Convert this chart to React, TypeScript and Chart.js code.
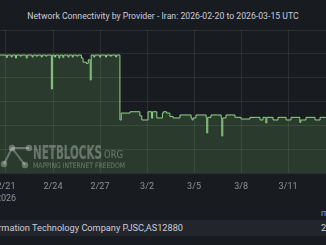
import React, { useEffect, useRef } from "react";
import { Chart, registerables } from "chart.js";
Chart.register(...registerables);

const TITLE = "Network Connectivity by Provider - Iran: 2026-02-20 to 2026-03-15 UTC";
const SERIES_NAME = "Information Technology Company PJSC,AS12880";

// hours since 2026-02-20 00:00 UTC (step series: value holds until next point)
const hours = [
  0, 24.5, 26, 32, 33.5, 38.5, 40, 46, 47.5, 55, 56.5, 64, 65.5, 70.5, 72, 78, 79.5, 85, 86.5,
  93.5, 95, 98.5, 100, 105, 106.5, 111, 112.5, 119, 120.5, 125.5, 127, 132.5, 134, 139.5, 142,
  147, 150, 153, 154.5, 158.5, 160, 167.5, 169, 176.5, 178, 184, 185.5, 192, 193.5,
  198.5, 200.5, 214, 229, 232, 241.5, 247, 248.5, 255, 263.5, 265, 270, 275, 280, 290.5,
  307.5, 309, 310.5, 315, 330.5, 331.5, 333, 338, 353.5, 354.5, 356, 361, 374.7, 384, 397.7,
  413, 417.6, 422, 423.5, 433, 440.6, 453, 460.5, 474, 475.5, 483.5, 497.3, 505, 521, 528,
  544, 552, 567, 576,
];
const values = [
  99, 97, 99, 97.3, 99, 96.5, 99, 98, 99, 96.5, 99, 97.3, 99, 98, 99, 97.3, 99, 98, 99,
  70.5, 99, 97.3, 99, 96.5, 99, 97, 99, 97.3, 99, 97.3, 99, 98, 99, 96.5, 93,
  92, 95, 78, 99, 97.3, 99, 97.3, 99, 97.3, 99, 98, 99, 97.3, 99,
  44.5, 50.3, 51.4, 48, 44.5, 51.4, 46, 51.4, 46.2, 50.3, 51.4, 50.3, 47.5, 46.2, 48.7,
  46.2, 44.5, 46.2, 48.7, 46.7, 33.6, 46.7, 48.7, 46.2, 31, 46.2, 48.7, 46.7, 45.3, 46.7,
  44.5, 46.7, 42, 46.7, 44.5, 46.7, 44.5, 46.7, 42.5, 44.5, 46.7, 44.5, 46.7, 44.5, 46.7,
  44.5, 46.7, 44.5, 44.5,
];

const tickHours = [24, 96, 168, 240, 312, 384, 456, 528];
const tickLabels: (string | string[])[] = [["2/21", "2026"], "2/24", "2/27", "3/2", "3/5", "3/8", "3/11", "3/14"];

const BG = "#181b1f";
const FONT = "Roboto";
const CANVAS_LEFT = -20;
const CANVAS_TOP = 20;

const watermark = {
  id: "watermark",
  afterDatasetsDraw(chart: any) {
    const ctx = chart.ctx;
    const ox = -CANVAS_LEFT;
    const oy = -CANVAS_TOP;
    ctx.save();
    const col = "rgba(255,255,255,0.3)";
    ctx.strokeStyle = col;
    ctx.fillStyle = col;
    ctx.lineWidth = 2;
    const nodes = [
      [12 + ox, 148 + oy],
      [29 + ox, 148 + oy],
      [4 + ox, 164 + oy],
      [25 + ox, 165 + oy],
    ];
    ctx.beginPath();
    ctx.moveTo(nodes[0][0], nodes[0][1]);
    ctx.lineTo(nodes[1][0], nodes[1][1]);
    ctx.moveTo(nodes[0][0], nodes[0][1]);
    ctx.lineTo(nodes[2][0], nodes[2][1]);
    ctx.moveTo(nodes[0][0], nodes[0][1]);
    ctx.lineTo(nodes[3][0], nodes[3][1]);
    ctx.stroke();
    for (const [x, y] of nodes) {
      ctx.beginPath();
      ctx.arc(x, y, 3.2, 0, Math.PI * 2);
      ctx.fill();
    }
    const fitText = (t: string, font: string, x: number, y: number, w: number) => {
      ctx.font = font;
      const m = ctx.measureText(t).width;
      ctx.save();
      ctx.translate(x + ox, y + oy);
      ctx.scale(w / m, 1);
      ctx.textBaseline = "alphabetic";
      ctx.fillText(t, 0, 0);
      ctx.restore();
    };
    fitText("NETBLOCKS", "bold 19px 'DejaVu Sans Condensed', 'DejaVu Sans'", 33, 158.5, 69);
    fitText("ORG", "11px 'DejaVu Sans'", 104, 158, 19);
    fitText("MAPPING INTERNET FREEDOM", "7.5px 'DejaVu Sans'", 33, 168, 92);
    ctx.restore();
  },
};

export default function App() {
  const ref = useRef<HTMLCanvasElement>(null);
  useEffect(() => {
    const canvas = ref.current!;
    const chart = new Chart(canvas, {
      type: "line",
      data: {
        datasets: [
          {
            label: SERIES_NAME,
            data: hours.map((h, i) => ({ x: h, y: values[i] })),
            borderColor: "#93d488",
            backgroundColor: "rgba(115,191,105,0.2)",
            borderWidth: 1,
            pointRadius: 0,
            stepped: "before",
            fill: "origin",
          },
        ],
      },
      options: {
        animation: false,
        responsive: false,
        devicePixelRatio: 1,
        layout: { padding: { left: 10.33, right: 13.6, top: 10, bottom: 0 } },
        plugins: { legend: { display: false }, tooltip: { enabled: false }, title: { display: false } },
        scales: {
          x: {
            type: "linear",
            min: 0,
            max: 576,
            afterBuildTicks: (scale: any) => {
              scale.ticks = tickHours.map((v) => ({ value: v }));
            },
            afterFit: (scale: any) => {
              scale.height = 30;
            },
            ticks: {
              autoSkip: false,
              maxRotation: 0,
              padding: 8,
              color: "rgba(204,204,220,0.65)",
              font: { family: FONT, size: 9, lineHeight: 1.3 },
              callback: (_v: any, i: number) => tickLabels[i],
            },
            grid: { color: "rgba(240,250,255,0.09)", drawTicks: false },
            border: { display: false },
          },
          y: {
            min: 0,
            max: 120,
            ticks: { stepSize: 20, display: false },
            afterFit: (scale: any) => {
              scale.width = 0;
            },
            grid: { color: "rgba(240,250,255,0.09)", drawTicks: false },
            border: { display: false },
          },
        },
      },
      plugins: [watermark],
    } as any);
    return () => chart.destroy();
  }, []);

  return (
    <div
      style={{
        position: "fixed",
        left: 0,
        top: 0,
        width: 326,
        height: 245,
        overflow: "hidden",
        background: BG,
        fontFamily: FONT,
      }}
    >
      <div
        style={{
          position: "absolute",
          left: 0,
          top: 10,
          width: 326,
          textAlign: "center",
          fontSize: 8.7,
          lineHeight: "12px",
          color: "#ccccdc",
          whiteSpace: "nowrap",
        }}
      >
        {TITLE}
      </div>
      <canvas
        ref={ref}
        width={400}
        height={183}
        style={{ position: "absolute", left: CANVAS_LEFT, top: CANVAS_TOP, width: 400, height: 183 }}
      />
      <div style={{ position: "absolute", left: 0, top: 220, width: 326, height: 16, background: "#22252b" }} />
      <div
        style={{
          position: "absolute",
          right: 143,
          top: 220,
          lineHeight: "16px",
          fontSize: 9.2,
          color: "#ccccdc",
          whiteSpace: "nowrap",
        }}
      >
        {SERIES_NAME}
      </div>
      <div
        style={{
          position: "absolute",
          left: 321,
          top: 220,
          lineHeight: "16px",
          fontSize: 9.2,
          color: "#ccccdc",
          whiteSpace: "nowrap",
        }}
      >
        2
      </div>
      <div
        style={{
          position: "absolute",
          left: 321,
          top: 207,
          lineHeight: "12px",
          fontSize: 9,
          color: "#6e9fff",
          whiteSpace: "nowrap",
        }}
      >
        m
      </div>
    </div>
  );
}
